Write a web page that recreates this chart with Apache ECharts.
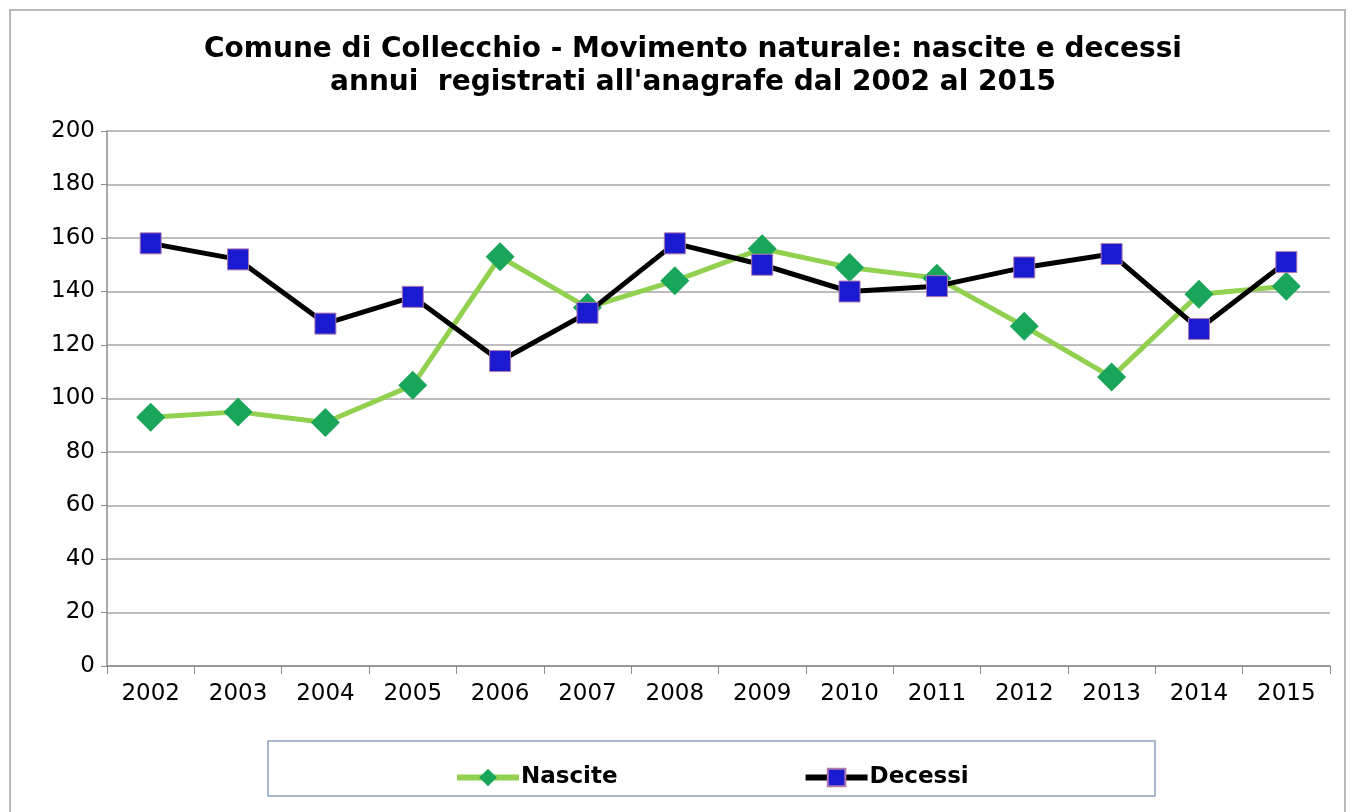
<!DOCTYPE html>
<html><head><meta charset="utf-8">
<script src="https://cdn.jsdelivr.net/npm/echarts@6/dist/echarts.min.js"></script>
<style>html,body{margin:0;padding:0;background:#fff}#c{width:1355px;height:812px}</style>
</head><body><div id="c"></div>
<script>
const categories = ['2002','2003','2004','2005','2006','2007','2008','2009','2010','2011','2012','2013','2014','2015'];
const nascite = [93, 95, 91, 105, 153, 134, 144, 156, 149, 145, 127, 108, 139, 142];
const decessi = [158, 152, 128, 138, 114, 132, 158, 150, 140, 142, 149, 154, 126, 151];
const yTicks = [0, 20, 40, 60, 80, 100, 120, 140, 160, 180, 200];

const FONT = 'DejaVu Sans, Verdana, sans-serif';
const chart = echarts.init(document.getElementById('c'));
chart.setOption({
  animation: false,
  backgroundColor: '#fff',
  title: {
    text: 'Comune di Collecchio - Movimento naturale: nascite e decessi\nannui  registrati all\'anagrafe dal 2002 al 2015',
    left: 688, textAlign: 'center', top: 28,
    textStyle: { fontFamily: FONT, fontSize: 28, fontWeight: 'bold', color: '#000', lineHeight: 33 }
  },
  graphic: [
    { type: 'rect', shape: { x: 10, y: 10, width: 1335, height: 810 }, style: { fill: 'none', stroke: '#b8b8b8', lineWidth: 2 }, z: -1 },
    { type: 'rect', shape: { x: 268, y: 741, width: 887, height: 55 }, style: { fill: '#fff', stroke: '#8ea4bc', lineWidth: 1.5 }, z: -1 }
  ],
  legend: {
    data: ['Nascite', 'Decessi'],
    left: 449, top: 761,
    itemGap: 185, itemWidth: 62, itemHeight: 22,
    lineStyle: { width: 6 },
    textStyle: { fontFamily: FONT, fontSize: 23, fontWeight: 'bold', color: '#000', padding: [0, 0, 0, -3] }
  },
  grid: { left: 107, right: 25, top: 131, bottom: 146 },
  xAxis: {
    type: 'category', data: categories, boundaryGap: true,
    axisLine: { lineStyle: { color: '#8c8c8c', width: 1.5 } },
    axisTick: { show: true, length: 8, interval: 0, lineStyle: { color: '#8c8c8c' } },
    axisLabel: { fontFamily: FONT, fontSize: 23, color: '#000', margin: 17 }
  },
  yAxis: {
    type: 'value', min: 0, max: 200, interval: 20,
    axisLine: { show: true, lineStyle: { color: '#8c8c8c', width: 1.5 } },
    axisTick: { show: true, length: 6, lineStyle: { color: '#8c8c8c' } },
    splitLine: { lineStyle: { color: '#a6a6a6', width: 1.5 } },
    axisLabel: { fontFamily: FONT, fontSize: 23, color: '#000', margin: 12,
      formatter: v => yTicks.includes(v) ? String(v) : '' }
  },
  series: [
    { name: 'Nascite', type: 'line', data: nascite, symbol: 'diamond', symbolSize: 29,
      lineStyle: { color: '#92d050', width: 5 },
      itemStyle: { color: '#1aa65a', borderColor: '#1aa65a', borderWidth: 0 }, z: 2 },
    { name: 'Decessi', type: 'line', data: decessi, symbol: 'rect', symbolSize: 21,
      lineStyle: { color: '#000', width: 5 },
      itemStyle: { color: '#1a1ad0', borderColor: '#b07ab0', borderWidth: 1 }, z: 3 }
  ]
});
</script></body></html>
